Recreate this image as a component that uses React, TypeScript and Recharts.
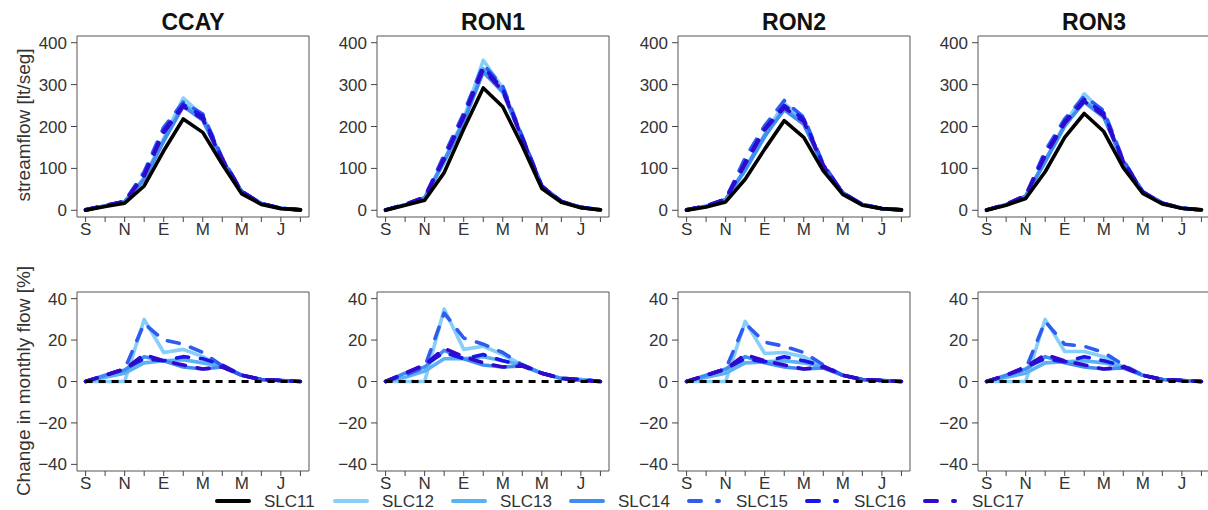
import React from "react"
import { LineChart, Line, XAxis, YAxis, ReferenceArea } from "recharts"

const FONT = "Arial, 'Liberation Sans', sans-serif"

// months Sep..Aug, labels on every other tick like the original
const MONTHS = ["S", "O", "N", "D", "E", "F", "M", "A", "M", "J", "J", "A"]
const MONTH_LABELS = ["S", "", "N", "", "E", "", "M", "", "M", "", "J", ""]

const SERIES = ["SLC11", "SLC12", "SLC13", "SLC14", "SLC15", "SLC16", "SLC17"]
const COLORS = ["#000000", "#87cefa", "#5cb1f3", "#3f8cf2", "#2f5cf0", "#1616e8", "#3408c8"]
const DASHED = [false, false, false, false, true, true, true]

const FLOW_TICKS = [0, 100, 200, 300, 400]
const CHANGE_TICKS = [-40, -20, 0, 20, 40]

// streamflow [lt/seg], one row per series SLC11..SLC17
const CCAY_FLOW = [
  [0, 9, 17, 58, 142, 218, 186, 110, 39, 14, 4, 1],
  [1, 10, 20, 78, 172, 268, 226, 122, 45, 16, 5, 1],
  [1, 10, 20, 72, 165, 255, 220, 120, 44, 16, 5, 1],
  [1, 11, 21, 75, 166, 248, 215, 118, 44, 16, 5, 1],
  [1, 11, 21, 92, 198, 258, 230, 125, 45, 16, 5, 1],
  [1, 11, 21, 86, 190, 252, 225, 123, 45, 16, 5, 1],
  [1, 11, 21, 82, 185, 248, 218, 120, 44, 16, 5, 1],
]
const RON1_FLOW = [
  [0, 12, 24, 90, 194, 292, 247, 154, 52, 19, 6, 1],
  [1, 13, 30, 120, 218, 358, 292, 175, 58, 21, 7, 1],
  [1, 13, 29, 115, 210, 338, 285, 172, 57, 21, 7, 1],
  [1, 13, 30, 118, 212, 330, 282, 170, 56, 21, 7, 1],
  [1, 14, 31, 132, 232, 348, 296, 176, 58, 21, 7, 1],
  [1, 14, 31, 126, 226, 342, 290, 174, 58, 21, 7, 1],
  [1, 14, 31, 122, 222, 336, 285, 172, 57, 21, 7, 1],
]
const RON2_FLOW = [
  [0, 8, 20, 74, 146, 214, 174, 94, 38, 12, 4, 1],
  [1, 9, 25, 100, 182, 255, 215, 108, 42, 14, 4, 1],
  [1, 9, 25, 95, 175, 245, 210, 106, 41, 14, 4, 1],
  [1, 10, 26, 98, 178, 240, 205, 105, 41, 14, 4, 1],
  [1, 10, 27, 125, 202, 262, 222, 110, 42, 14, 4, 1],
  [1, 10, 27, 115, 195, 250, 218, 108, 42, 14, 4, 1],
  [1, 10, 27, 110, 192, 245, 212, 106, 41, 14, 4, 1],
]
const RON3_FLOW = [
  [0, 12, 28, 92, 174, 231, 188, 102, 40, 15, 5, 1],
  [1, 13, 34, 120, 205, 278, 232, 118, 44, 17, 5, 1],
  [1, 13, 33, 115, 200, 262, 226, 116, 43, 17, 5, 1],
  [1, 14, 34, 118, 203, 258, 222, 114, 43, 17, 5, 1],
  [1, 14, 35, 142, 218, 272, 238, 120, 44, 17, 5, 1],
  [1, 14, 35, 135, 212, 265, 232, 118, 44, 17, 5, 1],
  [1, 14, 35, 130, 208, 260, 226, 116, 43, 17, 5, 1],
]

// change in monthly flow [%] vs SLC11
const CCAY_CHANGE = [
  [0, 0, 0, 0, 0, 0, 0, 0, 0, 0, 0, 0],
  [0, 0, 0, 30, 14, 15.5, 12, 7, 3, 1, 0.5, 0],
  [0, 2, 4, 9, 10, 10.5, 9, 7.5, 3, 1, 0.5, 0],
  [0, 3, 5.5, 12, 10, 7, 6, 7, 3, 1, 0.5, 0],
  [0, 3, 6, 28, 20, 18, 14, 7.5, 3, 1, 0.5, 0],
  [0, 3, 6, 11, 10, 12, 11, 8, 3, 1, 0.5, 0],
  [0, 3, 6, 13, 10, 8, 6, 7, 3, 1, 0.5, 0],
]
const RON1_CHANGE = [
  [0, 0, 0, 0, 0, 0, 0, 0, 0, 0, 0, 0],
  [0, 0, 0, 35, 15.5, 17, 13, 8, 4, 1.5, 1, 0],
  [0, 2, 5, 11, 11, 12, 10, 8, 4, 1.5, 1, 0],
  [0, 4, 7, 15, 11, 8, 7, 7.5, 4, 1.5, 0.5, 0],
  [0, 3, 7, 33, 21, 18, 14, 8, 4, 1.5, 1, 0],
  [0, 4, 8, 14, 11, 13, 10, 8, 4, 1.5, 1, 0],
  [0, 4, 8, 16, 12, 9, 7, 7.5, 4, 1.5, 0.5, 0],
]
const RON2_CHANGE = [
  [0, 0, 0, 0, 0, 0, 0, 0, 0, 0, 0, 0],
  [0, 0, 0, 29, 13.5, 14, 12, 7, 3, 1, 0.5, 0],
  [0, 2, 4, 9, 9.5, 10, 9, 7, 3, 1, 0.5, 0],
  [0, 3, 6, 12, 9, 7, 6, 6.5, 3, 1, 0.5, 0],
  [0, 3, 6, 28, 19, 17, 14, 8, 3, 1, 0.5, 0],
  [0, 3, 6, 11, 9.5, 12, 10, 7.5, 3, 1, 0.5, 0],
  [0, 3, 6, 13, 10, 8, 6, 7, 3, 1, 0.5, 0],
]
const RON3_CHANGE = [
  [0, 0, 0, 0, 0, 0, 0, 0, 0, 0, 0, 0],
  [0, 0, 0, 30, 14.5, 14.5, 12, 7, 3, 1, 0.5, 0],
  [0, 2, 4, 9, 9.5, 10, 9, 7, 3, 1, 0.5, 0],
  [0, 3, 6, 12, 9, 7, 6, 6.5, 3, 1, 0.5, 0],
  [0, 3, 6, 29, 18, 17, 14, 8, 3, 1, 0.5, 0],
  [0, 3, 7, 11, 9.5, 12, 10, 7.5, 3, 1, 0.5, 0],
  [0, 3, 7, 13, 10, 8, 6, 7, 3, 1, 0.5, 0],
]

const STATIONS = [
  { name: "CCAY", left: 77, flow: CCAY_FLOW, change: CCAY_CHANGE },
  { name: "RON1", left: 377, flow: RON1_FLOW, change: RON1_CHANGE },
  { name: "RON2", left: 678, flow: RON2_FLOW, change: RON2_CHANGE },
  { name: "RON3", left: 978, flow: RON3_FLOW, change: RON3_CHANGE },
]

const BOX_W = 232
const X_DOMAIN = [0.56, 12.44]

function toRows(values: number[][]) {
  return MONTHS.map((m, i) => {
    const row: any = { x: i + 1, month: m }
    SERIES.forEach((s, k) => (row[s] = values[k][i]))
    return row
  })
}

function Panel({ left, top, boxH, values, yDomain, yTicks, zeroLine }: any) {
  const rows = toRows(values)
  // draw colored series first, black reference on top
  const order = [1, 2, 3, 4, 5, 6, 0]
  return (
    <div style={{ position: "absolute", left: left - 70, top: top - 10 }}>
      <LineChart width={BOX_W + 75} height={boxH + 40} data={rows} margin={{ top: 10, right: 5, bottom: 0, left: 0 }}>
        <XAxis
          dataKey="x"
          type="number"
          domain={X_DOMAIN}
          allowDataOverflow
          ticks={[1, 2, 3, 4, 5, 6, 7, 8, 9, 10, 11, 12]}
          tickFormatter={(v: number) => MONTH_LABELS[v - 1]}
          height={30}
          tickSize={5}
          tickMargin={1}
          axisLine={false}
          tickLine={{ stroke: "#444" }}
          tick={{ fill: "#333", fontSize: 17, fontFamily: FONT }}
          interval={0}
        />
        <YAxis
          type="number"
          domain={yDomain}
          allowDataOverflow
          ticks={yTicks}
          tickFormatter={(v: number) => (v < 0 ? "\u2212" + Math.abs(v) : String(v))}
          width={70}
          tickSize={6}
          tickMargin={4}
          axisLine={false}
          tickLine={{ stroke: "#444" }}
          tick={{ fill: "#333", fontSize: 17, fontFamily: FONT }}
          interval={0}
        />
        <ReferenceArea x1={X_DOMAIN[0]} x2={X_DOMAIN[1]} y1={yDomain[0]} y2={yDomain[1]} fill="none" fillOpacity={0} stroke="#555" strokeWidth={1} />
        {order.map((k) => {
          const isRef = k === 0 && zeroLine
          return (
            <Line
              key={SERIES[k]}
              type="linear"
              dataKey={SERIES[k]}
              stroke={COLORS[k]}
              strokeWidth={isRef ? 3 : 3.6}
              strokeDasharray={isRef ? "7 6" : DASHED[k] ? "12 12" : undefined}
              strokeLinecap={isRef ? "butt" : "round"}
              strokeLinejoin="round"
              dot={false}
              activeDot={false}
              isAnimationActive={false}
            />
          )
        })}
      </LineChart>
    </div>
  )
}

function Legend() {
  return (
    <svg width={1208} height={26} style={{ position: "absolute", left: 0, top: 488 }}>
      {SERIES.map((s, i) => {
        const x0 = 215 + i * 118
        return (
          <g key={s}>
            <line
              x1={x0 + 2}
              x2={DASHED[i] ? x0 + 32 : x0 + 34}
              y1={13}
              y2={13}
              stroke={COLORS[i]}
              strokeWidth={4}
              strokeLinecap="round"
              strokeDasharray={DASHED[i] ? "12 16" : undefined}
            />
            <text x={x0 + 49} y={13} dominantBaseline="central" fontSize={17} fontFamily={FONT} fill="#333">
              {s}
            </text>
          </g>
        )
      })}
    </svg>
  )
}

export default function App() {
  return (
    <div style={{ position: "absolute", left: 0, top: 0, width: 1208, height: 510, background: "#fff", fontFamily: FONT }}>
      {STATIONS.map((st) => (
        <React.Fragment key={st.name}>
          <div
            style={{
              position: "absolute",
              left: st.left,
              width: BOX_W,
              top: 8,
              textAlign: "center",
              fontWeight: "bold",
              fontSize: 23,
              lineHeight: "28px",
              color: "#111",
            }}
          >
            {st.name}
          </div>
          <Panel left={st.left} top={36} boxH={181} values={st.flow} yDomain={[-16, 416]} yTicks={FLOW_TICKS} />
          <Panel left={st.left} top={292} boxH={179} values={st.change} yDomain={[-43.2, 43.2]} yTicks={CHANGE_TICKS} zeroLine />
        </React.Fragment>
      ))}
      <svg width={40} height={510} style={{ position: "absolute", left: 0, top: 0 }}>
        <text x={23} y={125} transform="rotate(-90 23 125)" textAnchor="middle" dominantBaseline="central" fontSize={19} fontFamily={FONT} fill="#333">
          streamflow [lt/seg]
        </text>
        <text x={23} y={381} transform="rotate(-90 23 381)" textAnchor="middle" dominantBaseline="central" fontSize={19} fontFamily={FONT} fill="#333">
          Change in monthly flow [%]
        </text>
      </svg>
      <Legend />
    </div>
  )
}
